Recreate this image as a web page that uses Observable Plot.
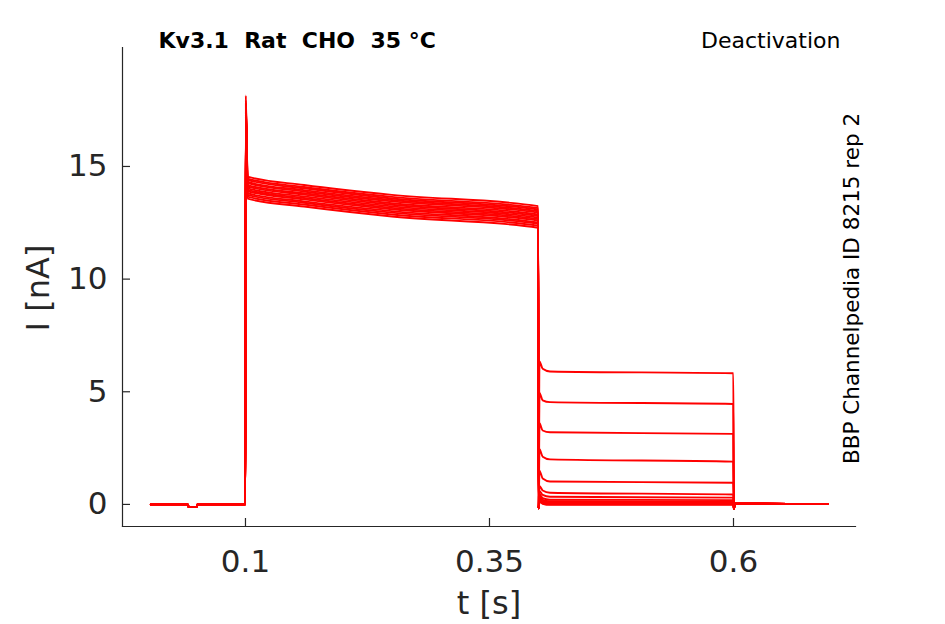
<!DOCTYPE html>
<html>
<head>
<meta charset="utf-8">
<script src="https://cdn.jsdelivr.net/npm/d3@7"></script>
<script src="https://cdn.jsdelivr.net/npm/@observablehq/plot@0.6"></script>
<style>
  html, body { margin: 0; padding: 0; background: #fff; }
  svg text { white-space: pre; }
</style>
</head>
<body>
<div id="chart"></div>
<script>
// ---- data ----
const sweepIds = [1, 2, 3, 4, 5, 6, 7, 8, 9, 10, 11, 12, 13, 14];

// baseline before the step (shared by all sweeps)
const baseT = [0.003, 0.0408, 0.0418, 0.0498, 0.0508, 0.0999];
const baseI = [0.0, 0.0, -0.11, -0.11, 0.0, 0.0];

// knot times of the protocol (s)
const tPeak = 0.1003, tPulseStart = 0.1022, tPulseEarly = 0.16, tPulseMid = 0.25, tPulseEnd = 0.3998;
const tDip = 0.4003, tOnset = 0.4012, tEarly = 0.4045, tSteady = 0.412, tTailEnd = 0.5998;
const tOffDip = 0.6004, tOffSettle = 0.6015, tStop = 0.697;

// current per sweep (nA)
const peakAmp    = [18.15, 17.95, 17.8, 17.7, 17.85, 17.6, 17.5, 17.75, 17.65, 17.4, 17.55, 17.3, 17.45, 17.2];
const pulseStart = [14.55, 14.46, 14.40, 14.31, 14.26, 14.17, 14.11, 14.03, 13.96, 13.90, 13.81, 13.74, 13.66, 13.57];
const pulseEarly = [14.18, 14.09, 14.03, 13.95, 13.89, 13.81, 13.75, 13.67, 13.60, 13.54, 13.45, 13.39, 13.31, 13.22];
const pulseMid   = [13.74, 13.65, 13.58, 13.51, 13.45, 13.37, 13.30, 13.23, 13.16, 13.10, 13.02, 12.95, 12.87, 12.78];
const pulseEnd   = [13.24, 13.15, 13.09, 13.01, 12.95, 12.87, 12.80, 12.73, 12.66, 12.60, 12.51, 12.45, 12.37, 12.28];
const tailDip    = -0.18;
const tailOnset  = [6.35, 4.95, 3.6, 2.45, 1.5, 0.82, 0.6, 0.45, 0.35, 0.28, 0.22, 0.18, 0.15, 0.12];
const tailEarly  = [6.02, 4.62, 3.28, 2.12, 1.15, 0.62, 0.42, 0.28, 0.2, 0.14, 0.1, 0.07, 0.05, 0.03];
const tailSteady = [5.9, 4.54, 3.2, 2.0, 1.02, 0.52, 0.34, 0.21, 0.14, 0.09, 0.05, 0.03, 0.01, -0.02];
const tailEnd    = [5.82, 4.46, 3.13, 1.9, 0.96, 0.44, 0.3, 0.19, 0.12, 0.08, 0.05, 0.03, 0.01, -0.02];
const offDip     = -0.2;
const offSettle  = 0.03;
const offStop    = 0.02;

// ticks
const xTicks = [0.1, 0.35, 0.6];
const xTickLabels = ["0.1", "0.35", "0.6"];
const yTicks = [0, 5, 10, 15];
const yTickLabels = ["0", "5", "10", "15"];

// texts
const titleText = "Kv3.1  Rat  CHO  35 °C";
const protocolText = "Deactivation";
const sideText = "BBP Channelpedia ID 8215 rep 2";
const xLabel = "t [s]";
const yLabel = "I [nA]";

// ---- build table ----
const rows = sweepIds.flatMap((s, k) => [
  ...baseT.map((t, j) => ({sweep: s, t, i: baseI[j]})),
  {sweep: s, t: tPeak, i: peakAmp[k]},
  {sweep: s, t: tPulseStart, i: pulseStart[k]},
  {sweep: s, t: tPulseEarly, i: pulseEarly[k]},
  {sweep: s, t: tPulseMid, i: pulseMid[k]},
  {sweep: s, t: tPulseEnd, i: pulseEnd[k]},
  {sweep: s, t: tDip, i: tailDip},
  {sweep: s, t: tOnset, i: tailOnset[k]},
  {sweep: s, t: tEarly, i: tailEarly[k]},
  {sweep: s, t: tSteady, i: tailSteady[k]},
  {sweep: s, t: tTailEnd, i: tailEnd[k]},
  {sweep: s, t: tOffDip, i: offDip},
  {sweep: s, t: tOffSettle, i: offSettle},
  {sweep: s, t: tStop, i: offStop}
]);

const ink = "#262626";

const chart = Plot.plot({
  width: 945,
  height: 624,
  marginLeft: 122,
  marginRight: 90,
  marginTop: 47,
  marginBottom: 98,
  style: {fontFamily: "DejaVu Sans", background: "#fff"},
  x: {domain: [-0.026, 0.725]},
  y: {domain: [-0.98, 20.28]},
  marks: [
    Plot.frame({anchor: "left", stroke: ink, strokeWidth: 1.2}),
    Plot.frame({anchor: "bottom", stroke: ink, strokeWidth: 1.2}),
    Plot.axisX({ticks: xTicks, tickFormat: (d, i) => xTickLabels[i], tickSize: -8, tickPadding: 31,
      fontSize: 31, color: ink, label: null, strokeWidth: 1.2}),
    Plot.axisY({ticks: yTicks, tickFormat: (d, i) => yTickLabels[i], tickSize: -8, tickPadding: 23,
      fontSize: 31, color: ink, label: null, strokeWidth: 1.2}),
    Plot.line(rows, {x: "t", y: "i", z: "sweep", stroke: "#ff0000", strokeWidth: 1.9, curve: "monotone-x"}),
    Plot.text([xLabel], {frameAnchor: "bottom", textAnchor: "middle", lineAnchor: "bottom", dy: 87, fontSize: 32, fill: ink}),
    Plot.text([yLabel], {frameAnchor: "left", textAnchor: "middle", lineAnchor: "bottom", rotate: -90, dx: -74, dy: 1,
      fontSize: 32, fill: ink}),
    Plot.text([titleText], {frameAnchor: "top-left", textAnchor: "start", lineAnchor: "bottom", dx: 36, dy: 0,
      fontSize: 22, fontWeight: "bold", fill: "#000"}),
    Plot.text([protocolText], {frameAnchor: "top-right", textAnchor: "end", lineAnchor: "bottom", dx: -15, dy: 0,
      fontSize: 22, fill: "#000"}),
    Plot.text([sideText], {frameAnchor: "right", textAnchor: "middle", lineAnchor: "bottom", rotate: -90, dx: 3, dy: 1.5,
      fontSize: 21.5, fill: "#000"})
  ]
});

document.getElementById("chart").appendChild(chart);
</script>
</body>
</html>
